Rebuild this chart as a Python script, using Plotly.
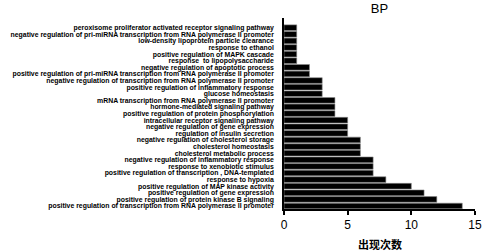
import plotly.graph_objects as go

categories = [
    "peroxisome proliferator activated receptor signaling pathway",
    "negative regulation of pri-miRNA transcription from RNA polymerase II promoter",
    "low-density lipoprotein particle clearance",
    "response to ethanol",
    "positive regulation of MAPK cascade",
    "response  to lipopolysaccharide",
    "negative regulation of apoptotic process",
    "positive regulation of pri-miRNA transcription from RNA polymerase II promoter",
    "negative regulation of transcription from RNA polymerase II promoter",
    "positive regulation of inflammatory response",
    "glucose homeostasis",
    "mRNA transcription from RNA polymerase II promoter",
    "hormone-mediated signaling pathway",
    "positive regulation of protein phosphorylation",
    "intracellular receptor signaling pathway",
    "negative regulation of gene expression",
    "regulation of insulin secretion",
    "negative regulation of cholesterol storage",
    "cholesterol homeostasis",
    "cholesterol metabolic process",
    "negative regulation of inflammatory response",
    "response to xenobiotic stimulus",
    "positive regulation of transcription , DNA-templated",
    "response to hypoxia",
    "positive regulation of MAP kinase activity",
    "positive regulation of gene expression",
    "positive regulation of protein kinase B signaling",
    "positive regulation of transcription from RNA polymerase II promoter",
]
counts = [1, 1, 1, 1, 1, 1, 2, 2, 3, 3, 3, 4, 4, 4, 5, 5, 5, 6, 6, 6, 7, 7, 7, 8, 10, 11, 12, 14]
x_ticks = [0, 5, 10, 15]

fig = go.Figure(go.Bar(
    x=counts, y=list(range(len(categories))), orientation="h",
    marker=dict(color="#000000", line=dict(color="#8a8a8a", width=0.6)),
))

fig.update_layout(
    width=483, height=252,
    margin=dict(l=284, r=8, t=18, b=43),
    paper_bgcolor="white", plot_bgcolor="white",
    bargap=0.14,
    showlegend=False,
    title=dict(text="BP", x=0.5, xref="paper", xanchor="center",
               y=0.965, yref="container", yanchor="middle",
               font=dict(family="Liberation Sans, Arial", size=13, color="black")),
    font=dict(family="Liberation Sans, Arial", color="black"),
    annotations=[dict(text="<b>出现次数</b>", x=0.5, xref="paper", xanchor="center",
                      y=(209 - 244.5) / 191, yref="paper", yanchor="middle", showarrow=False,
                      font=dict(size=11, family="Noto Sans CJK SC", color="black"))],
)

fig.update_xaxes(
    range=[0, 15], tickvals=x_ticks, ticktext=[str(t) for t in x_ticks],
    showgrid=False, zeroline=False, automargin=False,
    showline=True, linecolor="black", linewidth=1.5,
    ticks="outside", ticklen=4, tickwidth=1.5, tickcolor="black",
    tickfont=dict(size=12, family="Liberation Sans, Arial", color="black"),
)
fig.update_yaxes(
    range=[27.45, -1.47],
    tickvals=list(range(len(categories))),
    ticktext=["<b>" + c + "</b>" for c in categories],
    showgrid=False, zeroline=False, automargin=False,
    showline=True, linecolor="black", linewidth=1.5,
    ticks="", ticklabelstandoff=7,
    tickfont=dict(size=6.9, family="Liberation Sans, Arial", color="black"),
)

fig.write_html("out.html", config={"displayModeBar": False},
               post_script="document.body.style.margin='0';")
